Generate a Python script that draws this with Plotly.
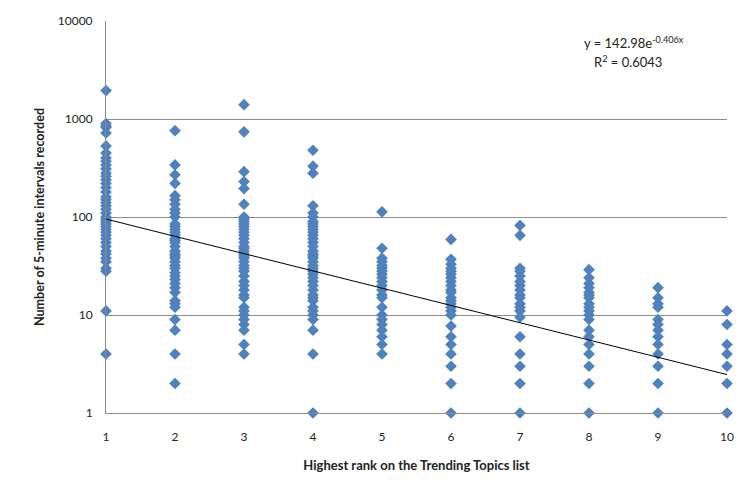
import math
import plotly.graph_objects as go

ranks = [1, 2, 3, 4, 5, 6, 7, 8, 9, 10]

rank1 = [1950, 900, 850, 820, 720, 530, 450, 400, 370, 340, 310, 280, 260, 240, 220, 200, 180,
         160, 150, 140, 130, 120, 110, 100, 95, 90, 85, 80, 75, 70, 65, 60, 55, 50, 45, 42, 38,
         35, 30, 28, 11, 4]
rank2 = [760, 340, 270, 220, 165, 150, 135, 120, 110, 100, 85, 80, 75, 70, 65, 60, 58, 55, 50,
         45, 42, 40, 38, 35, 32, 30, 27, 25, 23, 21, 19, 17, 14, 13, 12, 9, 7, 4, 2]
rank3 = [1400, 740, 290, 230, 195, 135, 100, 95, 90, 85, 80, 75, 70, 65, 60, 55, 50, 48, 45, 42,
         40, 38, 35, 32, 30, 28, 25, 22, 20, 18, 16, 15, 12, 11, 10, 9, 8, 7, 5, 4]
rank4 = [480, 330, 280, 130, 110, 100, 90, 85, 80, 75, 70, 65, 60, 55, 50, 45, 42, 40, 38, 35,
         32, 30, 28, 26, 24, 22, 20, 18, 16, 15, 14, 12, 11, 10, 9, 7, 4, 1]
rank5 = [113, 48, 38, 35, 32, 30, 28, 26, 24, 22, 20, 18, 16, 15, 12, 10, 9, 8, 7, 6, 5, 4]
rank6 = [59, 37, 33, 30, 28, 26, 24, 22, 20, 18, 17, 15, 14, 13, 12, 11, 10, 7.7, 6, 5, 4, 3, 2, 1]
rank7 = [82, 65, 30, 28, 25, 22, 20, 18, 16, 15, 13, 12, 11, 9.5, 6, 4, 3, 2, 1]
rank8 = [29, 24, 21, 19, 17, 16, 15, 13, 12, 11, 10, 9, 7, 6, 5, 4, 3, 2, 1]
rank9 = [19, 15, 13, 12, 9, 8, 7, 6, 5, 4, 3, 2, 1]
rank10 = [11, 8, 5, 4, 3, 2, 1]

columns = [rank1, rank2, rank3, rank4, rank5, rank6, rank7, rank8, rank9, rank10]

# Trendline coefficients shown on chart: y = a * e^(b x)
fit_a = 142.98
fit_b = -0.406
fit_r2 = 0.6043

y_ticks = [1, 10, 100, 1000, 10000]
x_title = "Highest rank on the Trending Topics list"
y_title = "Number of 5-minute intervals recorded"

xs, ys = [], []
for r, col in zip(ranks, columns):
    xs += [r] * len(col)
    ys += col

fit_x = [ranks[0], ranks[-1]]
fit_y = [fit_a * math.exp(fit_b * x) for x in fit_x]

FONT = "Lato"
fig = go.Figure()
fig.add_trace(go.Scatter(
    x=xs, y=ys, mode="markers",
    marker=dict(symbol="diamond", size=9, color="#4F81BD", line=dict(width=0)),
    cliponaxis=False, showlegend=False, hoverinfo="x+y"))
fig.add_trace(go.Scatter(
    x=fit_x, y=fit_y, mode="lines", line=dict(color="black", width=1),
    showlegend=False, hoverinfo="skip"))

# The page body adds an 8px offset, so the figure is 16px smaller than the window
fig.update_layout(
    width=734, height=484,
    margin=dict(l=98, r=15, t=13, b=79),
    paper_bgcolor="white", plot_bgcolor="white",
    font=dict(family=FONT, size=12, color="#222222"),
    xaxis=dict(range=[1, 10], tickvals=ranks, ticktext=[str(r) for r in ranks],
               showgrid=False, zeroline=False, showline=True, linecolor="#8c8c8c",
               linewidth=1, ticks="", ticklabelstandoff=13, automargin=False,
               tickfont=dict(size=12, family=FONT),
               title=dict(text="<b>" + x_title + "</b>", font=dict(size=13, family=FONT),
                          standoff=17)),
    yaxis=dict(type="log", range=[0, 4], tickvals=y_ticks,
               ticktext=[str(v) for v in y_ticks],
               showgrid=True, gridcolor="#8c8c8c", gridwidth=1, zeroline=False,
               showline=True, linecolor="#8c8c8c", linewidth=1, ticks="",
               ticklabelstandoff=10, automargin=False, tickfont=dict(size=12, family=FONT),
               title=dict(text="<b>" + y_title + "</b>", font=dict(size=12.6, family=FONT),
                          standoff=10)),
)
fig.add_annotation(x=0.85, y=0.944, xref="paper", yref="paper", showarrow=False,
                   text="y = 142.98e<sup>-0.406x</sup>", font=dict(size=13, family=FONT),
                   xanchor="center", yanchor="middle")
fig.add_annotation(x=0.84, y=0.896, xref="paper", yref="paper", showarrow=False,
                   text="R<sup>2</sup> = " + str(fit_r2), font=dict(size=13, family=FONT),
                   xanchor="center", yanchor="middle")
fig.write_html("out.html")
